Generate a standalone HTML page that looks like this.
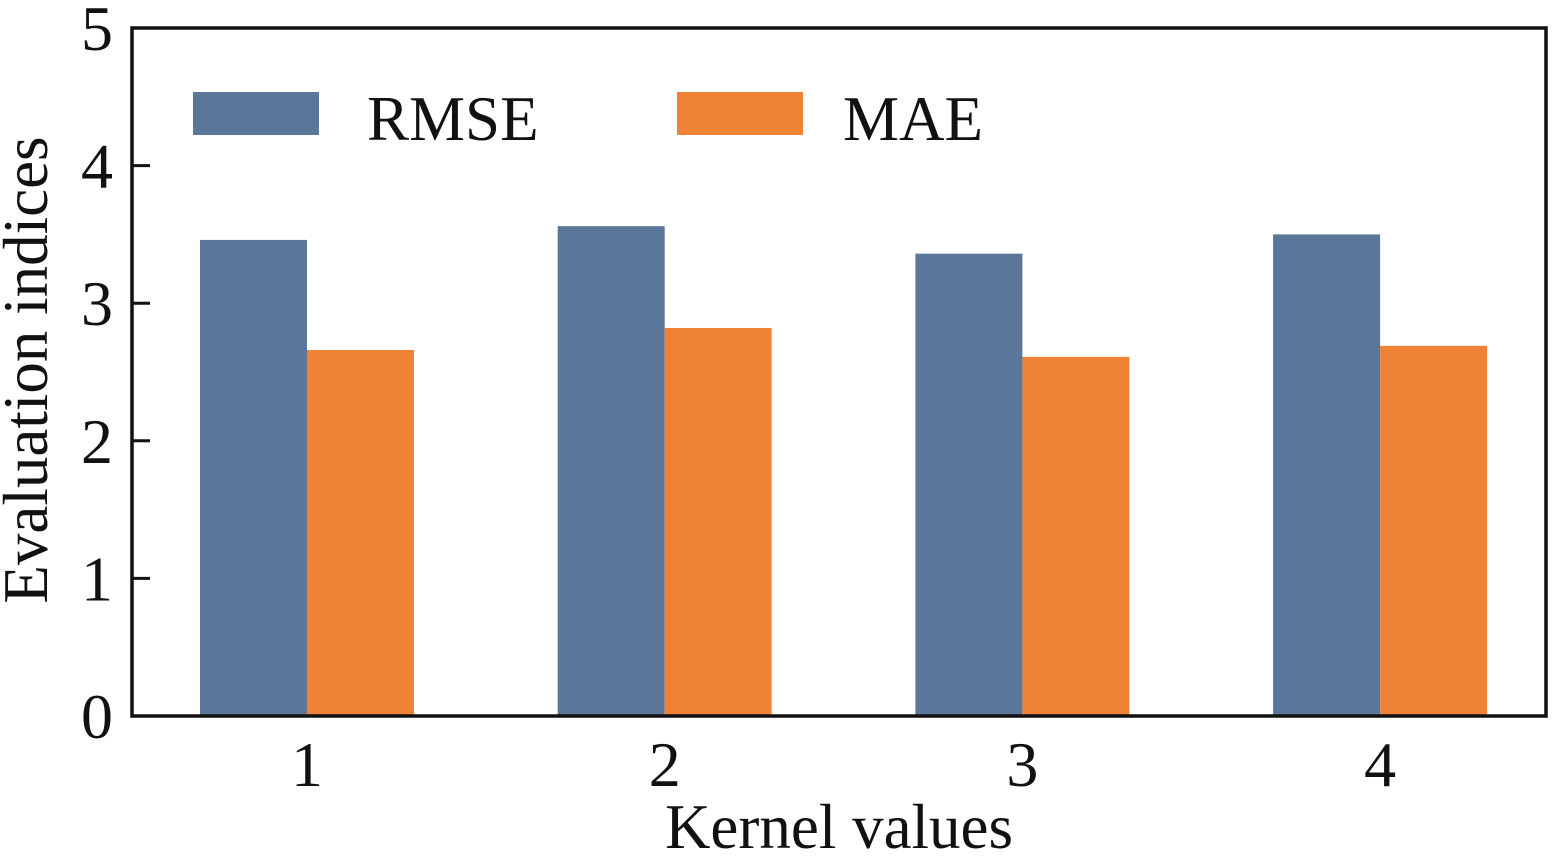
<!DOCTYPE html>
<html><head><meta charset="utf-8"><style>
html,body{margin:0;padding:0;background:#fff;}
svg text{font-family:"Liberation Serif",serif;fill:#111;}
</style></head><body>
<svg id="chart" width="1559" height="862" xmlns="http://www.w3.org/2000/svg"></svg>
<script>
const categories = ["1","2","3","4"];
const rmseValues = [3.46, 3.56, 3.36, 3.50];
const maeValues = [2.66, 2.82, 2.61, 2.69];
const yTicks = [0,1,2,3,4,5];
const seriesNames = ["RMSE","MAE"];

const NS="http://www.w3.org/2000/svg";
const svg=document.getElementById('chart');
const L=132,R=1546,T=28,B=716;
const y=v=>B-(v/5)*(B-T);
const cx=i=>307+i*357.7;
const bw=107;
function mk(tag,attrs,parent){const e=document.createElementNS(NS,tag);for(const k in attrs)e.setAttribute(k,attrs[k]);(parent||svg).appendChild(e);return e;}

const bars=mk('g',{});


categories.forEach((c,i)=>{
  const r=mk('rect',{x:cx(i)-bw,y:y(rmseValues[i]),width:bw,height:B-y(rmseValues[i]),fill:'#5a7699'},bars);
  
  
  const m=mk('rect',{x:cx(i),y:y(maeValues[i]),width:bw,height:B-y(maeValues[i]),fill:'#ef8235'},bars);
  
  
  const t=mk('text',{x:cx(i),y:786,'font-size':64,'text-anchor':'middle'});
  t.textContent=c;
  
  
});
yTicks.forEach(v=>{
  const ln=mk('line',{x1:L,x2:L+18,y1:y(v),y2:y(v),stroke:'#111','stroke-width':3});
  
  
  const t=mk('text',{x:113,y:y(v)+22,'font-size':64,'text-anchor':'end'});
  t.textContent=v;
  
  
});
const frame=mk('rect',{x:L,y:T,width:R-L,height:B-T,fill:'none',stroke:'#111','stroke-width':3.5});



const legCols=['#5a7699','#ef8235'];
const legX=[193,677];
const legTextX=[367,843];
seriesNames.forEach((n,i)=>{
  const g=mk('g',{});
  
  
  mk('rect',{x:legX[i],y:92,width:126,height:43,fill:legCols[i]},g);
  const t=mk('text',{x:legTextX[i],y:140,'font-size':63},g);
  t.textContent=n;
});
const xt=mk('text',{x:839,y:848,'font-size':63,'text-anchor':'middle'});
xt.textContent='Kernel values';


const yt=mk('text',{x:0,y:0,'font-size':63,'text-anchor':'middle',transform:'translate(47,370) rotate(-90)'});
yt.textContent='Evaluation indices';


</script>
</body></html>
